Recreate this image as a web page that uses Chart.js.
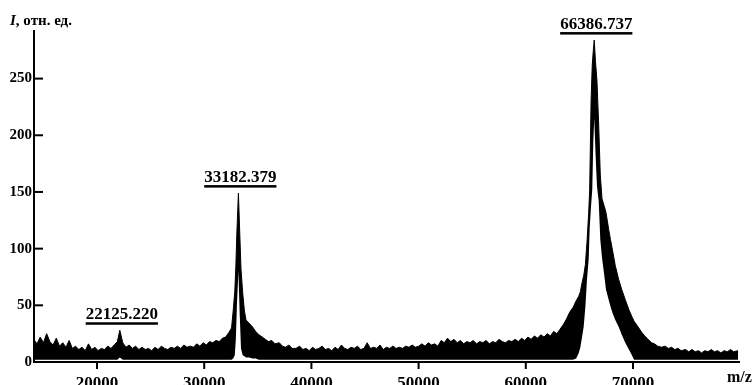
<!DOCTYPE html>
<html>
<head>
<meta charset="utf-8">
<script src="https://cdn.jsdelivr.net/npm/chart.js@4"></script>
<style>
  body { margin: 0; background: #fff; }
</style>
</head>
<body>
<canvas id="spectrum" width="754" height="385"></canvas>
<script>
// m/z points
const mz = [
  14100, 14400, 14700, 15000, 15300, 15600, 15900, 16200, 16500, 16800,
  17100, 17400, 17700, 18000, 18300, 18600, 18900, 19200, 19500, 19800,
  20100, 20400, 20700, 21000, 21300, 21600, 21900, 22125, 22400, 22700,
  23000, 23300, 23600, 23900, 24200, 24500, 24800, 25100, 25400, 25700,
  26000, 26300, 26600, 26900, 27200, 27500, 27800, 28100, 28400, 28700,
  29000, 29300, 29600, 29900, 30200, 30500, 30800, 31100, 31400, 31700,
  32000, 32300, 32550, 32700, 32850, 32950, 33050, 33190, 33300, 33430,
  33590, 33750, 33900, 34200, 34500, 34800, 35100, 35420, 35700, 36000,
  36300, 36600, 37000, 37300, 37600, 37900, 38200, 38560, 38900, 39200,
  39500, 39800, 40100, 40400, 40700, 41000, 41300, 41600, 41900, 42200,
  42500, 42800, 43100, 43400, 43700, 44000, 44300, 44600, 44900, 45200,
  45500, 45800, 46100, 46400, 46700, 47000, 47300, 47600, 47900, 48200,
  48500, 48800, 49100, 49400, 49700, 50000, 50300, 50600, 50900, 51200,
  51500, 51800, 52100, 52400, 52700, 53000, 53300, 53600, 53900, 54200,
  54500, 54800, 55100, 55400, 55700, 56000, 56300, 56600, 56900, 57200,
  57500, 57800, 58100, 58400, 58700, 59000, 59300, 59600, 59900, 60200,
  60500, 60800, 61100, 61400, 61700, 62000, 62300, 62600, 62900, 63200,
  63500, 63800, 64100, 64400, 64700, 64940, 65090, 65250, 65400, 65560,
  65710, 65870, 65960, 66090, 66200, 66300, 66386, 66500, 66640, 66800,
  66950, 67110, 67300, 67480, 67730, 67900, 68100, 68350, 68660, 68950,
  69280, 69620, 69900, 70100, 70400, 70830, 71100, 71400, 71740, 72000,
  72300, 72670, 73000, 73300, 73600, 73900, 74200, 74500, 74900, 75200,
  75500, 75800, 76100, 76400, 76700, 77000, 77300, 77600, 77900, 78200,
  78500, 78800, 79100, 79400, 79800
];

// top edge of the noisy trace
const upper = [
  20, 16, 22, 17, 25, 18, 15, 21, 14, 17,
  13, 19, 12, 14, 11, 13, 10, 16, 11, 13,
  10, 12, 11, 14, 12, 15, 18, 28, 17, 13,
  15, 12, 14, 11, 13, 11, 12, 10, 13, 11,
  14, 12, 11, 13, 12, 14, 12, 15, 13, 14,
  13, 16, 14, 17, 15, 18, 17, 19, 18, 21,
  22, 26, 30, 45, 62, 84, 115, 149, 118, 82,
  61, 45, 37, 34, 31, 27, 24, 22, 20, 18,
  19, 16, 17, 14, 13, 15, 12, 12, 14, 11,
  12, 10, 13, 11, 12, 14, 11, 12, 10, 13,
  11, 15, 12, 11, 13, 12, 14, 11, 12, 17,
  12, 13, 12, 15, 11, 13, 12, 14, 12, 13,
  12, 14, 13, 15, 13, 14, 16, 14, 17, 15,
  16, 14, 19, 17, 21, 18, 20, 17, 19, 16,
  18, 17, 19, 16, 18, 17, 19, 16, 18, 17,
  20, 18, 17, 19, 18, 20, 18, 21, 19, 22,
  20, 23, 21, 24, 22, 25, 23, 27, 25, 29,
  33, 38, 44, 48, 54, 58, 62, 70, 76, 86,
  106, 132, 152, 230, 262, 275, 284, 265, 248, 209,
  165, 144, 138, 132, 117, 108, 98, 85, 73, 64,
  55, 46, 40, 36, 32, 26, 23, 20, 17, 16,
  14, 13, 14, 12, 13, 11, 12, 10, 11, 9,
  11, 9, 10, 8, 10, 9, 11, 9, 10, 8,
  10, 9, 11, 9, 10
];

// bottom edge of the noisy trace
const lower = [
  2, 2, 2, 2, 2, 2, 2, 2, 2, 2,
  2, 2, 2, 2, 2, 2, 2, 2, 2, 2,
  2, 2, 2, 2, 2, 2, 2, 4, 2, 2,
  2, 2, 2, 2, 2, 2, 2, 2, 2, 2,
  2, 2, 2, 2, 2, 2, 2, 2, 2, 2,
  2, 2, 2, 2, 2, 2, 2, 2, 2, 2,
  2, 2, 2, 3, 6, 20, 50, 80, 45, 12,
  6, 5, 4, 4, 3, 3, 2, 2, 2, 2,
  2, 2, 2, 2, 2, 2, 2, 2, 2, 2,
  2, 2, 2, 2, 2, 2, 2, 2, 2, 2,
  2, 2, 2, 2, 2, 2, 2, 2, 2, 2,
  2, 2, 2, 2, 2, 2, 2, 2, 2, 2,
  2, 2, 2, 2, 2, 2, 2, 2, 2, 2,
  2, 2, 2, 2, 2, 2, 2, 2, 2, 2,
  2, 2, 2, 2, 2, 2, 2, 2, 2, 2,
  2, 2, 2, 2, 2, 2, 2, 2, 2, 2,
  2, 2, 2, 2, 2, 2, 2, 2, 2, 2,
  2, 2, 2, 2, 3, 8, 13, 22, 31, 49,
  73, 91, 118, 138, 152, 195, 215, 185, 155, 142,
  108, 92, 78, 64, 55, 49, 43, 37, 31, 24,
  17, 11, 6, 2, 2, 2, 2, 2, 2, 2,
  2, 2, 2, 2, 2, 2, 2, 2, 2, 2,
  2, 2, 2, 2, 2, 2, 2, 2, 2, 2,
  2, 2, 2, 2, 2
];

const xTicks = [20000, 30000, 40000, 50000, 60000, 70000];
const yTicks = [0, 50, 100, 150, 200, 250];

const peakMz = [22125.220, 33182.379, 66386.737];
const peakText = ['22125.220', '33182.379', '66386.737'];
const peakTop = [28, 149, 284];

const serif = '"Liberation Serif", "DejaVu Serif", serif';

const axisMarks = {
    id: 'axisMarks',
    afterDraw(chart) {
        const ctx = chart.ctx;
        const x = chart.scales.x;
        const y = chart.scales.y;
        const area = chart.chartArea;
        ctx.save();
        ctx.strokeStyle = '#000';
        ctx.fillStyle = '#000';
        ctx.lineWidth = 2;

        // x ticks point down, y ticks point into the plot
        xTicks.forEach(v => {
            const px = x.getPixelForValue(v);
            ctx.beginPath();
            ctx.moveTo(px, area.bottom);
            ctx.lineTo(px, area.bottom + 7);
            ctx.stroke();
        });
        yTicks.forEach(v => {
            if (v === 0) return;
            const py = y.getPixelForValue(v);
            ctx.beginPath();
            ctx.moveTo(area.left, py);
            ctx.lineTo(area.left + 9, py);
            ctx.stroke();
        });

        // peak labels with underline
        ctx.font = 'bold 17px ' + serif;
        ctx.textAlign = 'center';
        ctx.textBaseline = 'alphabetic';
        peakMz.forEach((m, i) => {
            const px = x.getPixelForValue(m) + 2;
            const line = y.getPixelForValue(peakTop[i]) - 7;
            const w = ctx.measureText(peakText[i]).width;
            ctx.fillText(peakText[i], px, line - 4);
            ctx.fillRect(px - w / 2, line - 1, w, 2.5);
        });

        // axis titles
        ctx.textAlign = 'left';
        ctx.font = 'italic bold 15px ' + serif;
        ctx.fillText('I', 10, 25);
        const iw = ctx.measureText('I').width;
        ctx.font = 'bold 15px ' + serif;
        ctx.fillText(', отн. ед.', 10 + iw, 25);
        ctx.font = 'bold 16px ' + serif;
        ctx.fillText('m/z', 727, 382);
        ctx.restore();
    }
};

new Chart(document.getElementById('spectrum'), {
    type: 'line',
    data: {
        datasets: [
            {
                data: mz.map((m, i) => ({ x: m, y: lower[i] })),
                borderWidth: 0,
                borderColor: '#000',
                pointRadius: 0,
                fill: false
            },
            {
                data: mz.map((m, i) => ({ x: m, y: upper[i] })),
                borderWidth: 1,
                borderColor: '#000',
                backgroundColor: '#000',
                pointRadius: 0,
                fill: '-1'
            }
        ]
    },
    options: {
        responsive: false,
        animation: false,
        layout: { padding: { top: 31, right: 15, left: 0, bottom: 0 } },
        plugins: {
            legend: { display: false },
            tooltip: { enabled: false }
        },
        scales: {
            x: {
                type: 'linear',
                min: 14120,
                max: 79890,
                afterBuildTicks: s => { s.ticks = xTicks.map(v => ({ value: v })); },
                afterFit: s => { s.height = 23; },
                grid: { display: false, drawTicks: false },
                border: { color: '#000', width: 2 },
                ticks: {
                    color: '#000',
                    padding: 11,
                    maxRotation: 0,
                    autoSkip: false,
                    callback: v => String(v),
                    font: { family: serif, size: 17, weight: 'bold' }
                }
            },
            y: {
                min: 0,
                max: 292,
                afterBuildTicks: s => { s.ticks = yTicks.map(v => ({ value: v })); },
                afterFit: s => { s.width = 34; },
                grid: { display: false, drawTicks: false },
                border: { color: '#000', width: 2 },
                ticks: {
                    color: '#000',
                    padding: 2,
                    callback: v => String(v),
                    font: { family: serif, size: 15, weight: 'bold' }
                }
            }
        }
    },
    plugins: [axisMarks]
});
</script>
</body>
</html>
